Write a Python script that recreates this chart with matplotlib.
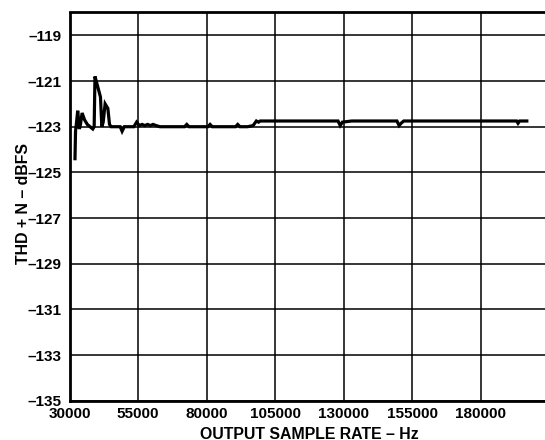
import matplotlib
matplotlib.use("Agg")
import matplotlib.pyplot as plt
import numpy as np

plt.rcParams['font.family'] = ['Liberation Sans', 'DejaVu Sans']

# output sample rate (Hz) and THD+N (dBFS)
rate_hz = [32000, 32200, 32400, 33000, 33600, 34000, 34600, 35500, 36500,
           37500, 38500, 39000, 39300, 40200, 41300, 41800, 42300, 43000,
           44000, 44600, 45200, 47000, 48500, 49200, 50000, 52000, 53500,
           54500, 55500, 56500, 57500, 58500, 59500, 60500, 61600, 63000,
           66000, 70000, 72000, 72800, 73600, 76000, 79000, 80500, 81300,
           82100, 85000, 88000, 90600, 91400, 92200, 95000, 97000, 98200,
           99000, 99600, 101000, 105000, 110000, 115000, 120000, 125000,
           128000, 128800, 129600, 133000, 140000, 145000, 149500, 150300,
           151000, 152000, 158000, 165000, 172000, 180000, 186000, 192000,
           193200, 193700, 194300, 196900]
thdn_dbfs = [-124.4, -123.2, -123.0, -122.3, -123.1, -122.9, -122.4, -122.7,
             -122.9, -123.0, -123.1, -123.0, -120.8, -121.2, -121.7, -123.0,
             -122.8, -122.0, -122.2, -122.9, -123.0, -123.0, -123.0, -123.2,
             -123.0, -123.0, -123.0, -122.8, -122.95, -122.9, -122.95, -122.9,
             -122.95, -122.9, -122.95, -123.0, -123.0, -123.0, -123.0, -122.9,
             -123.0, -123.0, -123.0, -123.0, -122.9, -123.0, -123.0, -123.0,
             -123.0, -122.9, -123.0, -123.0, -122.95, -122.75, -122.8, -122.75,
             -122.75, -122.75, -122.75, -122.75, -122.75, -122.75, -122.75,
             -122.95, -122.8, -122.75, -122.75, -122.75, -122.75, -122.95,
             -122.85, -122.75, -122.75, -122.75, -122.75, -122.75, -122.75,
             -122.75, -122.75, -122.85, -122.75, -122.75]

x_ticks = [30000, 55000, 80000, 105000, 130000, 155000, 180000]
y_ticks = [-135, -133, -131, -129, -127, -125, -123, -121, -119]

W, H = 545, 440
fig = plt.figure(figsize=(W / 100, H / 100), dpi=100)

xmin, xmax = 30000, 204500
ymin, ymax = -135, -118
px_per_hz = 68.5 / 25000
ax_left, ax_bottom, ax_top = 69.5, 440 - 400.8, 12.5
ax_w = (xmax - xmin) * px_per_hz
ax_h = H - ax_top - ax_bottom
ax = fig.add_axes([ax_left / W, ax_bottom / H, ax_w / W, ax_h / H])

ax.plot(rate_hz, thdn_dbfs, color='black', lw=2.3, solid_joinstyle='miter', zorder=3)

ax.set_xlim(xmin, xmax)
ax.set_ylim(ymin, ymax)
ax.set_xticks(x_ticks)
ax.set_yticks(y_ticks)
ax.set_xticklabels([str(v) for v in x_ticks])
ax.set_yticklabels(['\u2013' + str(abs(v)) for v in y_ticks])
ax.grid(True, color='black', lw=1.1)
ax.tick_params(length=0, labelsize=11)
ax.tick_params(axis='x', pad=4.5)
ax.tick_params(axis='y', pad=5.5)
for lab in ax.get_xticklabels() + ax.get_yticklabels():
    lab.set_fontweight('bold')
for sp in ax.spines.values():
    sp.set_linewidth(2.0)

ax.set_xlabel('OUTPUT SAMPLE RATE \u2013 Hz', fontsize=11.4, fontweight='bold')
ax.set_ylabel('THD + N \u2013 dBFS', fontsize=11.4, fontweight='bold')
ax.xaxis.set_label_coords((309.5 - ax_left) / ax_w, -(426.5 - 400.8) / ax_h)
ax.yaxis.set_label_coords(-(ax_left - 31) / ax_w, (400.8 - 204) / ax_h)

fig.savefig('out.png', dpi=100)
